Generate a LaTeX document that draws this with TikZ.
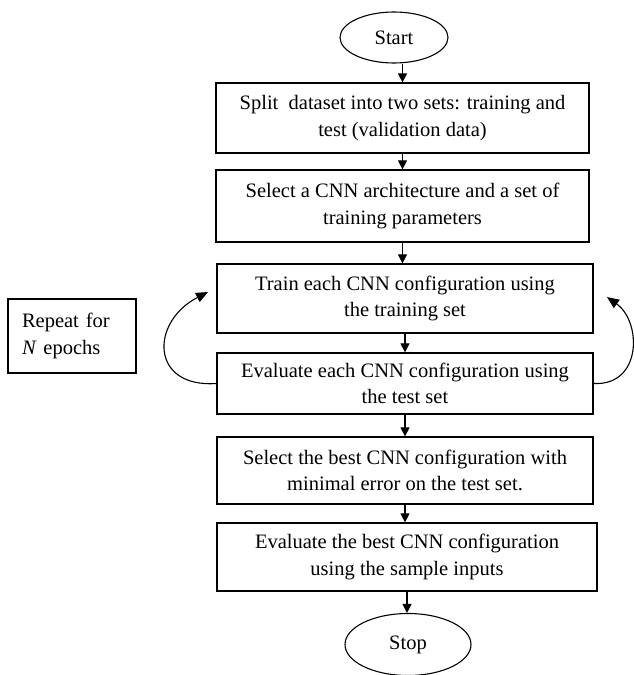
\documentclass[tikz,border=0pt]{standalone}
\usepackage{fontspec}
\setmainfont{Liberation Serif}
\usetikzlibrary{shapes.geometric,arrows.meta}
\begin{document}
\begin{tikzpicture}[x=1pt,y=-1pt,
  every node/.style={font=\fontsize{20.5}{26.5}\selectfont},
  procbox/.style={draw,line width=1.2pt,rectangle,align=center,inner sep=0pt},
  term/.style={draw,line width=1.1pt,ellipse,inner sep=0pt},
  arr/.style={line width=1.1pt,-{Triangle[length=9pt,width=9pt]}},
  loop/.style={line width=1.1pt,-{Triangle[length=12pt,width=10pt]}}]
\useasboundingbox (0,0) rectangle (633,675);
\node[term,minimum width=108pt,minimum height=51pt] (start) at (394,37.5) {Start};
\node[procbox,minimum width=373pt,minimum height=70pt] (b1) at (402.5,118) {Split\ \ dataset into two sets: training and\\test (validation data)};
\node[procbox,minimum width=373pt,minimum height=72pt] (b2) at (402.5,206) {Select a CNN architecture and a set of\\training parameters};
\node[procbox,minimum width=376pt,minimum height=69pt] (b3) at (405,298.5) {Train each CNN configuration using\\the training set};
\node[procbox,minimum width=376pt,minimum height=61pt] (b4) at (405,383.5) {Evaluate each CNN configuration using\\the test set};
\node[procbox,minimum width=376pt,minimum height=67pt] (b5) at (405,470.5) {Select the best CNN configuration with\\minimal error on the test set.};
\node[procbox,minimum width=380pt,minimum height=68pt] (b6) at (407,557) {Evaluate the best CNN configuration\\using the sample inputs};
\node[term,minimum width=126pt,minimum height=62pt] (stop) at (408,644.5) {Stop};
\node[procbox,minimum width=128pt,minimum height=74pt,text width=100pt,align=left] (rep) at (72,336) {Repeat for\\\textit{N} epochs};
\draw[arr] (start.south -| b1.north) -- (b1.north);
\draw[arr] (b1.south) -- (b1.south |- b2.north);
\draw[arr] (b2.south) -- (b2.south |- b3.north);
\draw[arr] (b3.south) -- (b3.south |- b4.north);
\draw[arr] (b4.south) -- (b4.south |- b5.north);
\draw[arr] (b5.south) -- (b5.south |- b6.north);
\draw[arr] (b6.south) -- (b6.south |- stop.north);
\coordinate (ltip) at (208,292);
\coordinate (rtip) at (607,297);
\draw[loop] (b4.west) .. controls (150,388) and (150,322) .. (ltip);
\draw[loop] (b4.east) .. controls (642,386) and (642,322) .. (rtip);
\end{tikzpicture}
\end{document}
